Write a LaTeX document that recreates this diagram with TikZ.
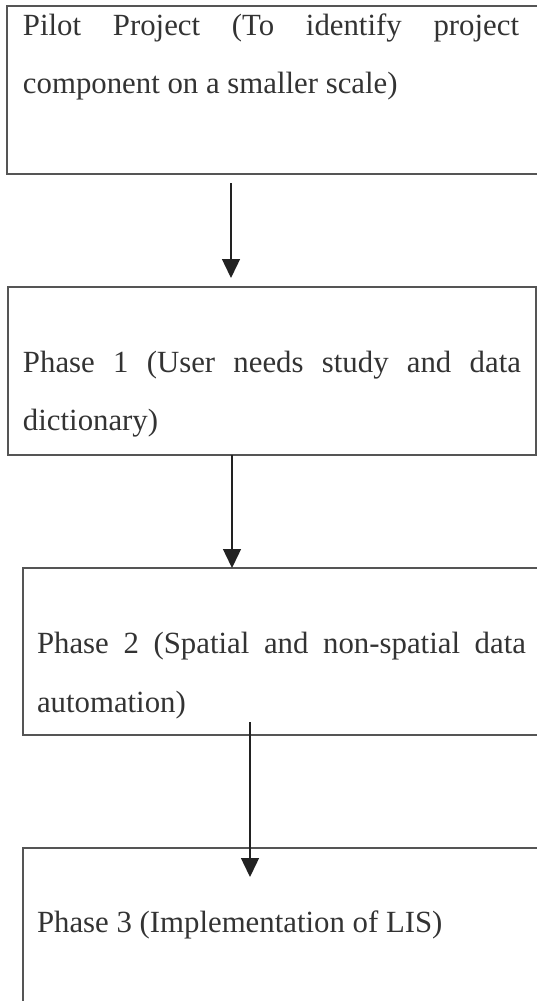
\documentclass[tikz,border=0pt]{standalone}
\usepackage{fontspec}
\setmainfont{Liberation Serif}
\usetikzlibrary{arrows.meta}
\definecolor{boxcol}{HTML}{555555}
\definecolor{txtcol}{HTML}{333333}
\definecolor{arrcol}{HTML}{222222}
\tikzset{
  box/.style={draw=boxcol, line width=1.4pt, rectangle, anchor=north west, inner sep=0pt, outer sep=0pt},
  lbl/.style={anchor=base west, inner sep=0pt, outer sep=0pt, text=txtcol, font=\fontsize{30.8}{36}\selectfont},
  arr/.style={draw=arrcol, line width=1.4pt, -{Triangle[width=18pt,length=19pt]}}
}
\begin{document}
\begin{tikzpicture}[x=1pt,y=-1pt]
\useasboundingbox (0,0) rectangle (537,1001);
% boxes
\node[box, minimum width=620pt, minimum height=168pt] (b1) at (7,6) {};
\node[box, minimum width=528pt, minimum height=168pt] (b2) at (8,287) {};
\node[box, minimum width=620pt, minimum height=167pt] (b3) at (23,568) {};
\node[box, minimum width=620pt, minimum height=220pt] (b4) at (23,848) {};
% texts
\node[lbl] (t1a) at (23,35) {\makebox[496pt][s]{Pilot Project (To identify project}};
\node[lbl] (t1b) at (23,93) {component on a smaller scale)};
\node[lbl] (t2a) at (23,372) {\makebox[498pt][s]{Phase 1 (User needs study and data}};
\node[lbl] (t2b) at (23,430) {dictionary)};
\node[lbl] (t3a) at (37,653) {\makebox[489pt][s]{Phase 2 (Spatial and non-spatial data}};
\node[lbl] (t3b) at (37,712) {automation)};
\node[lbl] (t4) at (37,932) {Phase 3 (Implementation of LIS)};
% arrows
\coordinate (a1s) at (231,183);
\coordinate (a1e) at (231,278);
\coordinate (a2x) at (232,0);
\coordinate (a3s) at (250,722);
\coordinate (a3e) at (250,877);
\draw[arr] (a1s) -- (a1e);
\draw[arr] (b2.south -| a2x) -- (b3.north -| a2x);
\draw[arr] (a3s) -- (a3e);
\end{tikzpicture}
\end{document}
